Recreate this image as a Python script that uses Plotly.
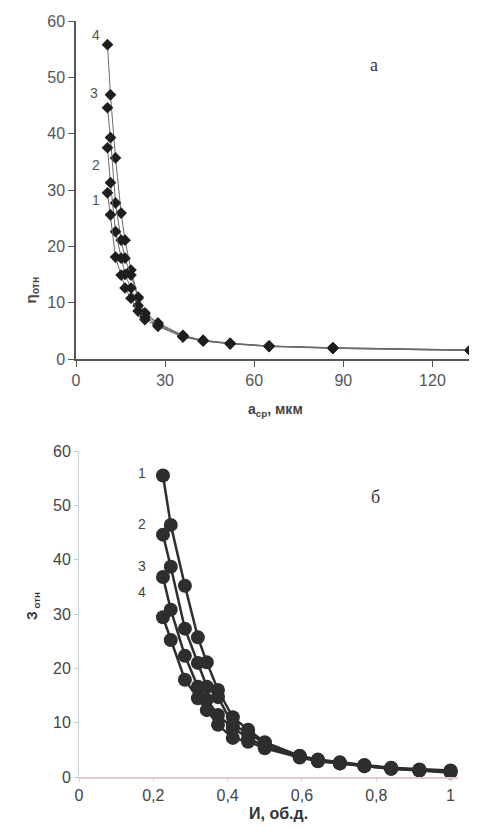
import plotly.graph_objects as go

# ---------- Panel a: eta_rel vs a_avg ----------
a_x = [10.6, 11.6, 13.3, 15.2, 16.5, 18.5, 20.9, 23.2, 27.6, 36.0, 42.8, 51.9, 65.0, 86.5, 132.7]
a_s4 = [55.8, 46.9, 35.7, 25.9, 21.1, 15.8, 11.0, 8.2, 6.4, 4.2, 3.3, 2.8, 2.3, 2.0, 1.6]
a_s3 = [44.6, 39.3, 27.7, 21.1, 17.9, 14.9, 10.8, 8.0, 6.2, 4.1, 3.3, 2.8, 2.3, 2.0, 1.6]
a_s2 = [37.5, 31.3, 22.6, 17.9, 15.0, 12.6, 9.5, 7.5, 6.0, 4.0, 3.2, 2.7, 2.3, 1.9, 1.5]
a_s1 = [29.5, 25.6, 18.1, 14.9, 12.6, 10.8, 8.5, 7.0, 5.8, 3.9, 3.2, 2.7, 2.2, 1.9, 1.5]
a_names = ["4", "3", "2", "1"]
a_label_x = [6.7, 6.1, 6.7, 6.7]
a_label_y = [57.5, 47.2, 34.5, 28.2]

# ---------- Panel b: Z_rel vs I ----------
b_x = [0.226, 0.247, 0.285, 0.32, 0.344, 0.374, 0.414, 0.455, 0.50, 0.594, 0.643, 0.702, 0.768, 0.84, 0.916, 1.0]
b_s1 = [55.5, 46.4, 35.2, 25.7, 21.1, 16.0, 11.0, 8.7, 6.4, 3.9, 3.2, 2.7, 2.2, 1.7, 1.4, 1.2]
b_s2 = [44.6, 38.7, 27.3, 21.0, 16.6, 14.7, 9.6, 8.1, 6.2, 3.8, 3.1, 2.6, 2.1, 1.6, 1.3, 1.1]
b_s3 = [36.8, 30.8, 22.3, 16.6, 14.2, 11.4, 9.0, 7.2, 5.6, 3.7, 3.0, 2.5, 2.0, 1.5, 1.2, 1.0]
b_s4 = [29.4, 25.2, 17.9, 14.5, 12.3, 9.6, 7.2, 6.5, 5.3, 3.6, 2.9, 2.5, 2.0, 1.5, 1.2, 0.8]
b_names = ["1", "2", "3", "4"]
b_label_x = [0.169, 0.169, 0.169, 0.169]
b_label_y = [56.0, 46.6, 38.9, 34.0]

a_ticks = [0, 30, 60, 90, 120]
b_ticks = [0, 0.2, 0.4, 0.6, 0.8, 1.0]
b_ticktext = ["0", "0,2", "0,4", "0,6", "0,8", "1"]
y_ticks = [0, 10, 20, 30, 40, 50, 60]

# page body has an 8px margin; figure sized to fit the 477x837 window
OFF = 8
W, H = 477 - OFF, 837 - OFF


def px(x):
    return (x - OFF) / W


def py(y):
    return 1 - (y - OFF) / H


fig = go.Figure()

for ys, nm in zip([a_s4, a_s3, a_s2, a_s1], a_names):
    fig.add_trace(go.Scatter(
        x=a_x, y=ys, mode="lines+markers", name=nm, xaxis="x", yaxis="y",
        line=dict(color="#6a6a6a", width=1),
        marker=dict(symbol="diamond", size=9, color="#1e1e1e"),
        showlegend=False, cliponaxis=False))

for ys, nm in zip([b_s1, b_s2, b_s3, b_s4], b_names):
    fig.add_trace(go.Scatter(
        x=b_x, y=ys, mode="lines+markers", name=nm, xaxis="x2", yaxis="y2",
        line=dict(color="#2e2e2e", width=2.5),
        marker=dict(symbol="circle", size=14, color="#2e2e2e"),
        showlegend=False, cliponaxis=False))

ann = []
for t, x, y in zip(a_names, a_label_x, a_label_y):
    ann.append(dict(x=x, y=y, xref="x", yref="y", text=t, showarrow=False,
                    font=dict(family="Liberation Sans Narrow, Arial Narrow, Arial", size=14, color="#555")))
for t, x, y in zip(b_names, b_label_x, b_label_y):
    ann.append(dict(x=x, y=y, xref="x2", yref="y2", text=t, showarrow=False,
                    font=dict(family="Liberation Sans, Arial", size=14, color="#444")))

ann.append(dict(x=px(380), y=py(53), xref="paper", yref="paper", text="а", showarrow=False,
                font=dict(family="Liberation Serif, Times New Roman", size=18, color="#333")))
ann.append(dict(x=px(382), y=py(497), xref="paper", yref="paper", text="б", showarrow=False,
                font=dict(family="Liberation Serif, Times New Roman", size=18, color="#333")))

# axis titles
ann.append(dict(x=px(20), y=py(290), xref="paper", yref="paper",
                text="<b>η<sub>отн</sub></b>", textangle=-90, showarrow=False,
                font=dict(family="Liberation Sans, Arial", size=15, color="#444")))
ann.append(dict(x=px(275), y=py(410), xref="paper", yref="paper",
                text="<b>a<sub>ср</sub>, мкм</b>", showarrow=False,
                font=dict(family="Liberation Sans, Arial", size=14, color="#444")))
ann.append(dict(x=px(22), y=py(622), xref="paper", yref="paper",
                text="<b>З<sub> отн</sub></b>", textangle=-90, showarrow=False,
                font=dict(family="Liberation Sans, Arial", size=14, color="#333")))
ann.append(dict(x=px(278), y=py(824), xref="paper", yref="paper",
                text="<b>И, об.д.</b>", showarrow=False,
                font=dict(family="Liberation Sans, Arial", size=16, color="#333")))

tickfont_a = dict(family="Liberation Sans Narrow, Arial Narrow, Arial", size=16, color="#555")
tickfont_b = dict(family="Liberation Sans, Arial", size=16, color="#444")

fig.update_layout(
    width=W, height=H,
    margin=dict(l=0, r=0, t=0, b=0),
    paper_bgcolor="white", plot_bgcolor="white",
    annotations=ann,
    xaxis=dict(domain=[px(76), 1.0], range=[0, 135], tickvals=a_ticks,
               showline=True, linecolor="#555", linewidth=1.5, ticks="outside",
               ticklen=6, tickcolor="#555", showgrid=False, zeroline=False,
               tickfont=tickfont_a, anchor="y", automargin=False),
    yaxis=dict(domain=[py(359), py(21)], range=[0, 60], tickvals=y_ticks,
               showline=True, linecolor="#555", linewidth=1.5, ticks="outside",
               ticklen=6, tickcolor="#555", showgrid=False, zeroline=False,
               tickfont=tickfont_a, anchor="x", automargin=False),
    xaxis2=dict(domain=[px(79), px(458)], range=[0, 1.02], tickvals=b_ticks, ticktext=b_ticktext,
                showline=True, linecolor="#e0c8d4", linewidth=1.5, ticks="outside",
                ticklen=3, tickcolor="#cfd8e0", showgrid=False, zeroline=False,
                tickfont=tickfont_b, anchor="y2", automargin=False),
    yaxis2=dict(domain=[py(777), py(451)], range=[0, 60], tickvals=y_ticks,
                showline=True, linecolor="#c8d4dc", linewidth=1, ticks="outside",
                ticklen=4, tickcolor="#b8c8d4", showgrid=False, zeroline=False,
                tickfont=tickfont_b, anchor="x2", automargin=False),
)

fig.write_html("out.html")
